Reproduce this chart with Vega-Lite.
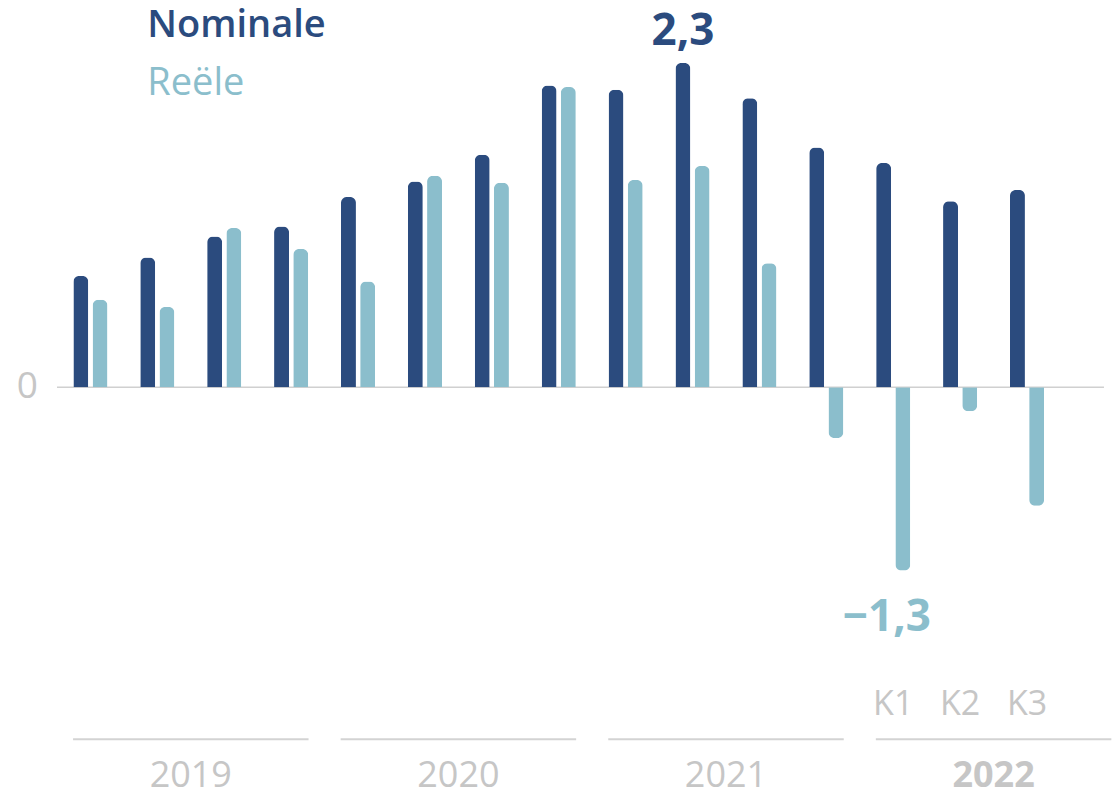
{
  "$schema": "https://vega.github.io/schema/vega-lite/v6.json",
  "width": 1070.4,
  "height": 791,
  "autosize": "none",
  "padding": {"left": 57, "top": 0, "right": 0, "bottom": 0},
  "background": "white",
  "config": {
    "view": {"stroke": null},
    "font": "Open Sans",
    "locale": {"number": {"decimal": ",", "thousands": ".", "grouping": [3], "currency": ["€", ""], "minus": "\u2212"}}
  },
  "datasets": {
    "main": [
      {"q": "2019 K1", "series": "Nominale", "value": 0.79}, {"q": "2019 K1", "series": "Reële", "value": 0.62},
      {"q": "2019 K2", "series": "Nominale", "value": 0.92}, {"q": "2019 K2", "series": "Reële", "value": 0.57},
      {"q": "2019 K3", "series": "Nominale", "value": 1.07}, {"q": "2019 K3", "series": "Reële", "value": 1.13},
      {"q": "2019 K4", "series": "Nominale", "value": 1.14}, {"q": "2019 K4", "series": "Reële", "value": 0.98},
      {"q": "2020 K1", "series": "Nominale", "value": 1.35}, {"q": "2020 K1", "series": "Reële", "value": 0.75},
      {"q": "2020 K2", "series": "Nominale", "value": 1.46}, {"q": "2020 K2", "series": "Reële", "value": 1.50},
      {"q": "2020 K3", "series": "Nominale", "value": 1.65}, {"q": "2020 K3", "series": "Reële", "value": 1.45},
      {"q": "2020 K4", "series": "Nominale", "value": 2.14}, {"q": "2020 K4", "series": "Reële", "value": 2.13},
      {"q": "2021 K1", "series": "Nominale", "value": 2.11}, {"q": "2021 K1", "series": "Reële", "value": 1.47},
      {"q": "2021 K2", "series": "Nominale", "value": 2.30}, {"q": "2021 K2", "series": "Reële", "value": 1.57},
      {"q": "2021 K3", "series": "Nominale", "value": 2.05}, {"q": "2021 K3", "series": "Reële", "value": 0.88},
      {"q": "2021 K4", "series": "Nominale", "value": 1.70}, {"q": "2021 K4", "series": "Reële", "value": -0.36},
      {"q": "2022 K1", "series": "Nominale", "value": 1.59}, {"q": "2022 K1", "series": "Reële", "value": -1.30},
      {"q": "2022 K2", "series": "Nominale", "value": 1.32}, {"q": "2022 K2", "series": "Reële", "value": -0.17},
      {"q": "2022 K3", "series": "Nominale", "value": 1.40}, {"q": "2022 K3", "series": "Reële", "value": -0.84}
    ],
    "legend": [{"series": "Nominale"}, {"series": "Reële"}],
    "years": [{"year": "2019"}, {"year": "2020"}, {"year": "2021"}, {"year": "2022"}],
    "quarters": [{"q": "2022 K1", "label": "K1"}, {"q": "2022 K2", "label": "K2"}, {"q": "2022 K3", "label": "K3"}]
  },
  "layer": [
    {
      "layer": [
        {
          "data": {"values": [{}]},
          "mark": {"type": "rule", "color": "#d0d0d0", "strokeWidth": 1.5},
          "encoding": {
            "x": {"datum": "2019 K1", "bandPosition": 0, "scale": {"domain": ["2019 K1","2019 K2","2019 K3","2019 K4","2020 K1","2020 K2","2020 K3","2020 K4","2021 K1","2021 K2","2021 K3","2021 K4","2022 K1","2022 K2","2022 K3","2022 K4"], "paddingInner": 0, "paddingOuter": 0}, "axis": null},
            "x2": {"datum": "2022 K4", "bandPosition": 0.65},
            "y": {"datum": 0, "type": "quantitative", "scale": {"domain": [-2.864, 2.747], "nice": false, "zero": false}, "axis": null}
          }
        },
        {
          "data": {"values": [{}]},
          "mark": {"type": "text", "text": "0", "align": "right", "baseline": "middle", "dx": -19, "fontSize": 37, "color": "#c6c6c6"},
          "encoding": {
            "x": {"datum": "2019 K1", "bandPosition": 0, "axis": null},
            "y": {"datum": 0, "type": "quantitative", "axis": null}
          }
        },
        {
          "data": {"name": "main"},
          "transform": [{"filter": "datum.value >= 0"}],
          "mark": {"type": "bar", "cornerRadiusTopLeft": 6, "cornerRadiusTopRight": 6},
          "encoding": {
            "x": {"field": "q", "type": "nominal", "axis": null},
            "xOffset": {"field": "series", "type": "nominal", "scale": {"domain": ["Nominale", "Reële"], "paddingInner": 0.22, "paddingOuter": 0.852}},
            "y": {"field": "value", "type": "quantitative", "axis": null},
            "color": {"field": "series", "type": "nominal", "scale": {"domain": ["Nominale", "Reële"], "range": ["#2b4b7e", "#8bbecc"]}, "legend": null}
          }
        },
        {
          "data": {"name": "main"},
          "transform": [{"filter": "datum.value < 0"}],
          "mark": {"type": "bar", "cornerRadiusBottomLeft": 6, "cornerRadiusBottomRight": 6},
          "encoding": {
            "x": {"field": "q", "type": "nominal", "axis": null},
            "xOffset": {"field": "series", "type": "nominal"},
            "y": {"field": "value", "type": "quantitative", "axis": null},
            "color": {"field": "series", "type": "nominal", "legend": null}
          }
        },
        {
          "data": {"name": "main"},
          "transform": [{"filter": "datum.q == '2021 K2' && datum.series == 'Nominale'"}],
          "mark": {"type": "text", "baseline": "alphabetic", "dy": -18, "fontSize": 44, "fontWeight": "bold"},
          "encoding": {
            "x": {"field": "q", "type": "nominal", "axis": null},
            "xOffset": {"field": "series", "type": "nominal"},
            "y": {"field": "value", "type": "quantitative", "axis": null},
            "text": {"field": "value", "type": "quantitative", "format": ".1f"},
            "color": {"field": "series", "type": "nominal", "legend": null}
          }
        },
        {
          "data": {"name": "main"},
          "transform": [{"filter": "datum.q == '2022 K1' && datum.series == 'Reële'"}],
          "mark": {"type": "text", "baseline": "alphabetic", "dy": 60, "dx": -16, "fontSize": 44, "fontWeight": "bold"},
          "encoding": {
            "x": {"field": "q", "type": "nominal", "axis": null},
            "xOffset": {"field": "series", "type": "nominal"},
            "y": {"field": "value", "type": "quantitative", "axis": null},
            "text": {"field": "value", "type": "quantitative", "format": ".1f"},
            "color": {"field": "series", "type": "nominal", "legend": null}
          }
        },
        {
          "data": {"name": "quarters"},
          "mark": {"type": "text", "baseline": "alphabetic", "fontSize": 34, "color": "#c6c6c6"},
          "encoding": {
            "x": {"field": "q", "type": "nominal", "axis": null},
            "y": {"datum": -2.3254, "type": "quantitative", "axis": null},
            "text": {"field": "label", "type": "nominal"}
          }
        },
        {
          "data": {"name": "legend"},
          "transform": [{"filter": "datum.series == 'Nominale'"}],
          "mark": {"type": "text", "align": "left", "baseline": "alphabetic", "fontSize": 38, "fontWeight": 600},
          "encoding": {
            "x": {"datum": "2019 K2", "bandPosition": 0.35, "axis": null},
            "y": {"datum": 2.4849, "type": "quantitative", "axis": null},
            "text": {"field": "series", "type": "nominal"},
            "color": {"field": "series", "type": "nominal", "legend": null}
          }
        },
        {
          "data": {"name": "legend"},
          "transform": [{"filter": "datum.series == 'Reële'"}],
          "mark": {"type": "text", "align": "left", "baseline": "alphabetic", "fontSize": 38, "fontWeight": "normal"},
          "encoding": {
            "x": {"datum": "2019 K2", "bandPosition": 0.35, "axis": null},
            "y": {"datum": 2.0735, "type": "quantitative", "axis": null},
            "text": {"field": "series", "type": "nominal"},
            "color": {"field": "series", "type": "nominal", "legend": null}
          }
        }
      ]
    },
    {
      "layer": [
        {
          "data": {"name": "years"},
          "mark": {"type": "bar", "color": "#d3d3d3"},
          "encoding": {
            "x": {"field": "year", "type": "nominal", "scale": {"domain": ["2019", "2020", "2021", "2022"], "paddingInner": 0.12, "paddingOuter": 0.06}, "axis": null},
            "y": {"datum": -2.4906, "type": "quantitative", "axis": null},
            "y2": {"datum": -2.5048}
          }
        },
        {
          "data": {"name": "years"},
          "transform": [{"filter": "datum.year != '2022'"}],
          "mark": {"type": "text", "baseline": "alphabetic", "fontSize": 36, "color": "#c6c6c6"},
          "encoding": {
            "x": {"field": "year", "type": "nominal", "axis": null},
            "y": {"datum": -2.836, "type": "quantitative", "axis": null},
            "text": {"field": "year", "type": "nominal"}
          }
        },
        {
          "data": {"name": "years"},
          "transform": [{"filter": "datum.year == '2022'"}],
          "mark": {"type": "text", "baseline": "alphabetic", "fontSize": 36, "fontWeight": "bold", "color": "#c6c6c6"},
          "encoding": {
            "x": {"field": "year", "type": "nominal", "axis": null},
            "y": {"datum": -2.836, "type": "quantitative", "axis": null},
            "text": {"field": "year", "type": "nominal"}
          }
        }
      ]
    }
  ],
  "resolve": {"scale": {"x": "independent"}}
}
